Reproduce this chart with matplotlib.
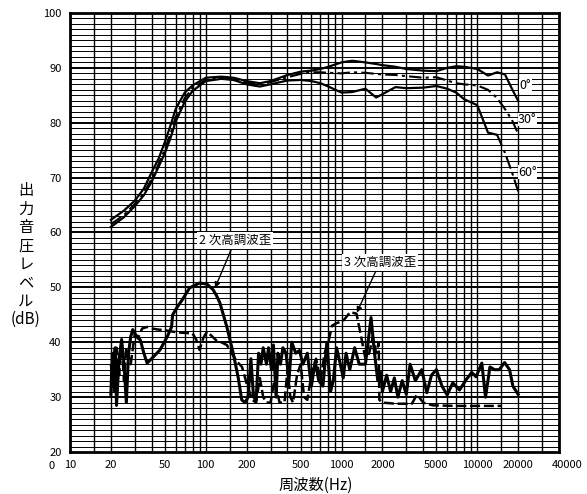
import matplotlib
matplotlib.use("Agg")
import matplotlib.pyplot as plt
import matplotlib.transforms as mtransforms

plt.rcParams['font.family'] = ['Noto Sans CJK JP', 'DejaVu Sans']

# frequency response, 0 / 30 / 60 degrees
freq = [20, 25, 30, 35, 40, 45, 50, 55, 60, 70, 80, 100, 130, 160, 200, 250, 300,
        400, 500, 600, 700, 800, 1000, 1200, 1500, 1800, 2000, 2500, 3000, 4000,
        5000, 6000, 7000, 8000, 10000, 12000, 14000, 16000, 18000, 20000]
resp_0 = [62.3, 64, 65.8, 68, 71, 73.5, 76.5, 79.5, 82.5, 85.5, 86.8, 88.2, 88.4, 88.2,
          87.6, 87.2, 87.6, 88.7, 89.3, 89.5, 89.8, 90.2, 91, 91.3, 91, 90.7, 90.5,
          90.2, 89.8, 89.5, 89.4, 90, 90.3, 90.2, 89.8, 88.6, 89.2, 88.8, 86.2, 84]
resp_30 = [61.5, 63.2, 65.2, 67.2, 69.8, 72.5, 75.2, 78, 81, 84.5, 86.3, 87.8, 88.2,
           88, 87.3, 87, 87.4, 88.3, 88.9, 89.2, 89.2, 89.1, 89, 89.2, 89.1, 88.9, 88.8,
           88.7, 88.5, 88.2, 88.3, 87.7, 87.2, 87, 86.8, 86, 84.5, 82.5, 80.5, 78]
resp_60 = [61, 62.8, 64.8, 66.8, 69.3, 72, 74.5, 77.2, 80.2, 83.8, 85.8, 87.6, 88, 87.8,
           87, 86.6, 87, 87.7, 87.8, 87.6, 87.2, 86.6, 85.5, 85.6, 86.2, 84.6, 85.2,
           86.5, 86.3, 86.4, 86.7, 86.2, 85.5, 84.3, 83.2, 78.2, 77.8, 74.5, 71, 67.5]

# 2nd harmonic distortion (solid)
h2_freq = [20, 20.5, 21, 21.5, 22, 23, 24, 25, 26, 27, 28, 29, 31, 33, 35, 37, 41, 46,
           52, 56, 57, 62, 67, 76, 90, 102, 113, 120, 127, 143, 159, 173, 184, 195,
           205, 215, 225, 235, 245, 255, 265, 280, 290, 305, 315, 330, 340, 355, 370,
           390, 410, 430, 460, 490, 520, 560, 600, 640, 680, 730, 780, 830, 870, 920,
           980, 1030, 1080, 1150, 1250, 1350, 1500, 1650, 1750, 1850, 1950, 2000, 2150,
           2300, 2450, 2600, 2800, 3000, 3200, 3500, 3900, 4250, 4600, 5000, 5500,
           6000, 6600, 7400, 8300, 9100, 9800, 10800, 11500, 12400, 13400, 14500,
           15900, 17300, 18300, 20000]
h2_db = [30.5, 38, 33, 39, 28.5, 37, 40.5, 36, 29, 38, 41, 42.3, 41, 40.4, 38, 36.2,
         37.3, 38.6, 41, 42.8, 45, 46.5, 47.7, 49.9, 50.8, 50.6, 49.6, 48.5, 47.2, 42.8,
         38.1, 33.7, 29.5, 29, 30, 37, 30, 29.5, 38, 36, 39, 36, 39, 35, 39.5, 30, 38,
         36, 39, 38, 33, 40, 38, 38.5, 36, 38, 32, 36.5, 33, 32, 40, 31, 33, 39, 36,
         33.5, 38, 35, 39, 36, 36, 44.5, 38, 33, 34.5, 31, 34, 31, 33.5, 30, 33, 30.5,
         36, 33, 35, 30.8, 34, 35, 32, 30.4, 32.6, 31.3, 33.2, 34.5, 33.7, 36.2, 30,
         35.5, 35, 35, 36.3, 35, 32, 30.5]

# 3rd harmonic distortion (dashed)
h3_freq = [20, 21, 22, 23, 24, 25, 26, 28, 30, 32, 34, 37, 40, 45, 50, 55, 62, 70, 80,
           85, 90, 96, 102, 110, 120, 130, 143, 155, 170, 185, 200, 220, 235, 250, 265,
           280, 300, 320, 335, 350, 380, 400, 420, 440, 470, 500, 530, 560, 600, 650,
           700, 750, 800, 850, 920, 1020, 1160, 1290, 1410, 1500, 1600, 1700, 1800,
           1880, 1900, 2000, 2500, 3300, 3600, 4000, 4700, 7000, 10000, 15000]
h3_db = [36, 31, 39, 34, 40, 33, 39, 36, 41.5, 41, 42.5, 42.8, 42.5, 42.3, 42.2, 42,
         41.8, 41.7, 41.6, 40.5, 38.6, 40.8, 41.9, 41.2, 40.3, 40, 39.5, 38, 36.5, 35.5,
         32.5, 29.5, 29, 33.5, 30, 29, 29, 33, 31, 29, 29, 35, 30, 29, 34, 36, 30, 29.5,
         34, 37, 33, 38, 40, 43, 43.5, 43.8, 45.5, 45.2, 40.4, 37, 38, 41, 38, 40,
         29.5, 29, 28.8, 28.8, 30.5, 29, 28.5, 28.4, 28.4, 28.4]

xtick_vals = [10, 20, 50, 100, 200, 500, 1000, 2000, 5000, 10000, 20000, 40000]
ytick_vals = [20, 30, 40, 50, 60, 70, 80, 90, 100]

grid_x = [d * m for d in [10, 100, 1000, 10000] for m in [1, 1.5, 2, 3, 4, 5, 6, 7, 8, 9]]
grid_x = [g for g in grid_x if g <= 40000]

fig = plt.figure(figsize=(5.87, 4.94), dpi=100)
ax = fig.add_axes([70 / 587, 1 - 452 / 494, 489 / 587, 439 / 494])
ax.set_xscale('log')
ax.set_xlim(10, 40000)
ax.set_ylim(20, 100)

# chart paper grid
for g in grid_x:
    ax.axvline(g, color='black', lw=1.0, zorder=1)
for v in range(21, 100):
    ax.axhline(v, color='black', lw=1.4 if v % 10 == 0 else 0.7, zorder=1)

# response curves
ax.plot(freq, resp_0, color='black', lw=1.6, zorder=3)
ax.plot(freq, resp_30, color='black', lw=1.5, ls=(0, (6, 2, 1.5, 2)), zorder=3)
cut = freq.index(14000)
ax.plot(freq[:cut + 1], resp_60[:cut + 1], color='black', lw=1.6, zorder=3)
ax.plot(freq[cut:], resp_60[cut:], color='black', lw=1.5, ls=(0, (6, 2, 1.5, 2)), zorder=3)

# distortion curves
ax.plot(h2_freq, h2_db, color='black', lw=2.2, zorder=3)
ax.plot(h3_freq, h3_db, color='black', lw=1.8, ls=(0, (4, 1.5)), zorder=3)

ax.text(20500, 86.7, '0°', fontsize=9, va='center', zorder=4,
        bbox=dict(fc='white', ec='none', pad=0.3))
ax.text(20000, 80.6, '30°', fontsize=9, va='center', zorder=4,
        bbox=dict(fc='white', ec='none', pad=0.3))
ax.text(20000, 71, '60°', fontsize=9, va='center', zorder=4,
        bbox=dict(fc='white', ec='none', pad=0.3))

ax.annotate('2 次高調波歪', xy=(117, 49.9), xytext=(164, 58.5), fontsize=9,
            ha='center', va='center', zorder=5,
            bbox=dict(fc='white', ec='none', pad=1.5),
            arrowprops=dict(arrowstyle='-|>', color='black', lw=1, mutation_scale=8,
                            shrinkA=0, shrinkB=0))
ax.annotate('3 次高調波歪', xy=(1297, 45.4), xytext=(1918, 54.6), fontsize=9,
            ha='center', va='center', zorder=5,
            bbox=dict(fc='white', ec='none', pad=1.5),
            arrowprops=dict(arrowstyle='-|>', color='black', lw=1, mutation_scale=8,
                            shrinkA=0, shrinkB=0))

ax.set_xticks(xtick_vals)
ax.set_xticklabels([str(v) for v in xtick_vals])
ax.set_xticks([], minor=True)
ax.set_yticks(ytick_vals)
ax.set_yticklabels([str(v) for v in ytick_vals])
ax.tick_params(length=0, labelsize=8, pad=6)
lbl = ax.get_xticklabels()[-1]
lbl.set_transform(lbl.get_transform() + mtransforms.ScaledTranslation(8 / 100, 0, fig.dpi_scale_trans))
for s in ax.spines.values():
    s.set_linewidth(2)
    s.set_zorder(6)

fig.text(52 / 587, 1 - 466 / 494, '0', fontsize=8, ha='center', va='center')
fig.text(26 / 587, 1 - 255 / 494, '出\n力\n音\n圧\nレ\nベ\nル\n(dB)', fontsize=11,
         ha='center', va='center', linespacing=1.1)
fig.text(316 / 587, 1 - 485 / 494, '周波数(Hz)', fontsize=11, ha='center', va='center')

fig.savefig('out.png', dpi=100)
